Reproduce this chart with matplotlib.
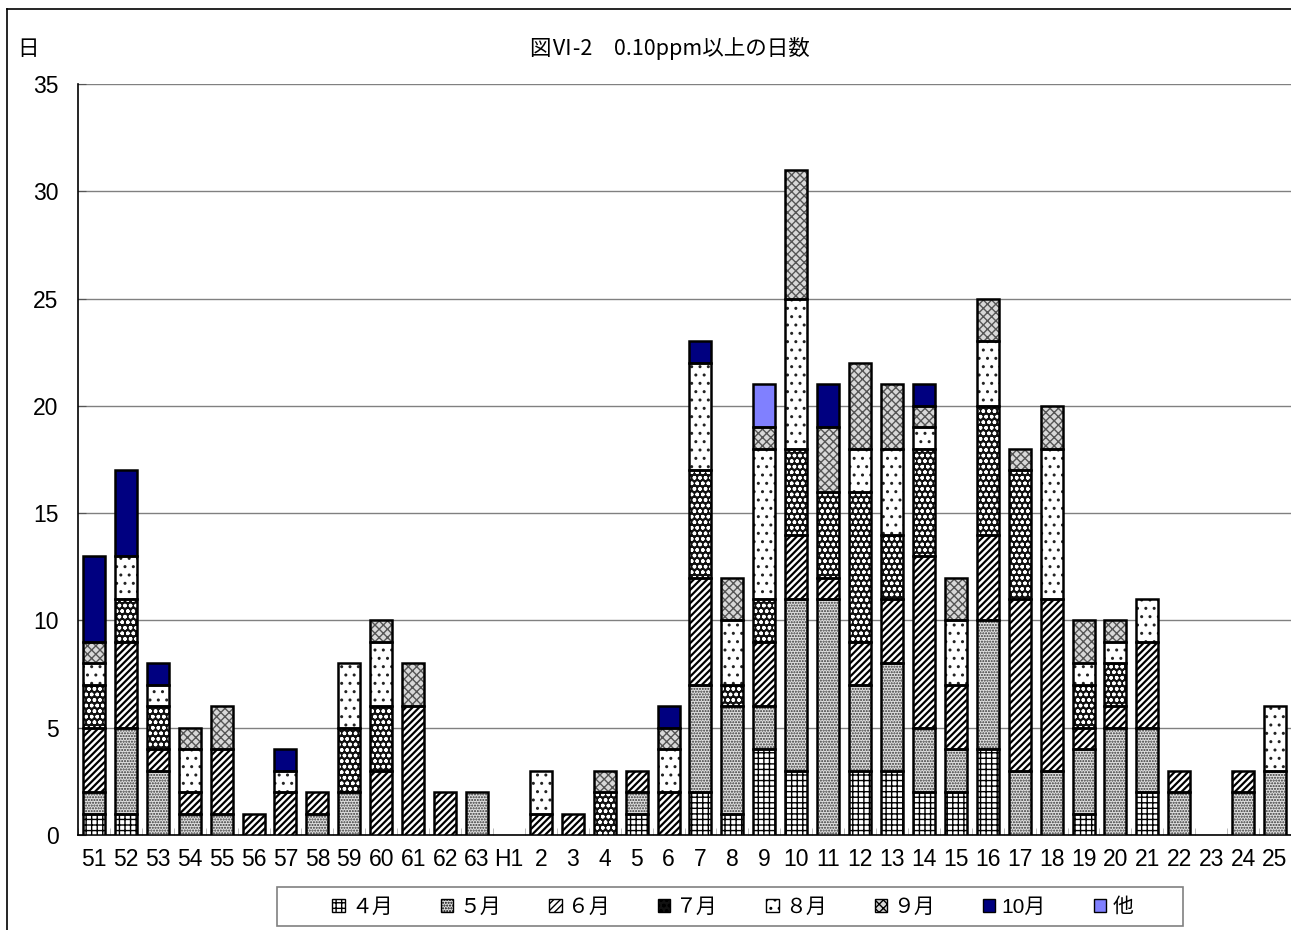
import matplotlib
matplotlib.use('Agg')
import matplotlib.pyplot as plt
from matplotlib.patches import Patch, Rectangle
from matplotlib.lines import Line2D
from matplotlib import font_manager
import numpy as np

categories = ['51', '52', '53', '54', '55', '56', '57', '58', '59', '60', '61', '62', '63', 'H1',
              '2', '3', '4', '5', '6', '7', '8', '9', '10', '11', '12', '13', '14', '15', '16',
              '17', '18', '19', '20', '21', '22', '23', '24', '25']

apr = [1, 1, 0, 0, 0, 0, 0, 0, 0, 0, 0, 0, 0, 0,
       0, 0, 0, 1, 0, 2, 1, 4, 3, 0, 3, 3, 2, 2, 4, 0, 0, 1, 0, 2, 0, 0, 0, 0]
may = [1, 4, 3, 1, 1, 0, 0, 1, 2, 0, 0, 0, 2, 0,
       0, 0, 0, 1, 0, 5, 5, 2, 8, 11, 4, 5, 3, 2, 6, 3, 3, 3, 5, 3, 2, 0, 2, 3]
jun = [3, 4, 1, 1, 3, 1, 2, 1, 0, 3, 6, 2, 0, 0,
       1, 1, 0, 1, 2, 5, 0, 3, 3, 1, 2, 3, 8, 3, 4, 8, 8, 1, 1, 4, 1, 0, 1, 0]
jul = [2, 2, 2, 0, 0, 0, 0, 0, 3, 3, 0, 0, 0, 0,
       0, 0, 2, 0, 0, 5, 1, 2, 4, 4, 7, 3, 5, 0, 6, 6, 0, 2, 2, 0, 0, 0, 0, 0]
aug = [1, 2, 1, 2, 0, 0, 1, 0, 3, 3, 0, 0, 0, 0,
       2, 0, 0, 0, 2, 5, 3, 7, 7, 0, 2, 4, 1, 3, 3, 0, 7, 1, 1, 2, 0, 0, 0, 3]
sep = [1, 0, 0, 1, 2, 0, 0, 0, 0, 1, 2, 0, 0, 0,
       0, 0, 1, 0, 1, 0, 2, 1, 6, 3, 4, 3, 1, 2, 2, 1, 2, 2, 1, 0, 0, 0, 0, 0]
octo = [4, 4, 1, 0, 0, 0, 1, 0, 0, 0, 0, 0, 0, 0,
        0, 0, 0, 0, 1, 1, 0, 0, 0, 2, 0, 0, 1, 0, 0, 0, 0, 0, 0, 0, 0, 0, 0, 0]
other = [0, 0, 0, 0, 0, 0, 0, 0, 0, 0, 0, 0, 0, 0,
         0, 0, 0, 0, 0, 0, 0, 2, 0, 0, 0, 0, 0, 0, 0, 0, 0, 0, 0, 0, 0, 0, 0, 0]

series_labels = ['４月', '５月', '６月', '７月', '８月', '９月', '10月', '他']
series = [apr, may, jun, jul, aug, sep, octo, other]
y_ticks = [0, 5, 10, 15, 20, 25, 30, 35]

# styles: facecolor, hatch, hatch color, hatch linewidth
styles = [
    ('white', '+++', 'black', 1.0),
    ('#e0e0e0', '......', '#333333', 1.0),
    ('white', '/////', 'black', 1.6),
    ('#111111', 'ooo', 'white', 1.0),
    ('white', '..', '#222222', 1.0),
    ('#d8d8d8', 'xxxx', '#555555', 1.0),
    ('#000080', '', '#000080', 1.0),
    ('#8080ff', '', '#8080ff', 1.0),
]

names = {f.name for f in font_manager.fontManager.ttflist}
latin = 'Liberation Sans Narrow' if 'Liberation Sans Narrow' in names else 'Liberation Sans'
fams = [latin, 'Noto Sans CJK JP', 'DejaVu Sans']
plt.rcParams['font.family'] = fams
plt.rcParams['hatch.linewidth'] = 1.0

fig = plt.figure(figsize=(12.91, 9.30), dpi=100)
ax = fig.add_axes([78 / 1291, 95 / 930, 1213 / 1291, 751 / 930])

x = np.arange(len(categories))
width = 0.69
bottom = np.zeros(len(categories))
for vals, (fc, hatch, hc, hlw) in zip(series, styles):
    v = np.array(vals, dtype=float)
    mask = v > 0
    with plt.rc_context({'hatch.linewidth': hlw}):
        bars = ax.bar(x[mask], v[mask], width, bottom=bottom[mask], color=fc, edgecolor=hc,
                      hatch=hatch, linewidth=0, zorder=3)
        for b in bars:
            if hasattr(b, 'set_hatch_linewidth'):
                b.set_hatch_linewidth(hlw)
    ax.bar(x[mask], v[mask], width, bottom=bottom[mask], fill=False, edgecolor='black',
           linewidth=1.8, zorder=4)
    bottom += v

ax.set_xlim(-0.5, len(categories) - 0.5)
ax.set_ylim(0, 35)
ax.set_yticks(y_ticks)
ax.set_xticks(x)
ax.set_xticklabels(categories)
ax.set_xticks(np.arange(len(categories) + 1) - 0.5, minor=True)
ax.tick_params(axis='x', which='major', length=0, pad=9, labelsize=16.5)
ax.tick_params(axis='x', which='minor', direction='in', length=5, color='#b0b0b0')
ax.tick_params(axis='y', direction='in', length=6, color='#555555', pad=14, labelsize=16.5)
ax.yaxis.grid(True, color='#808080', linewidth=1)
ax.set_axisbelow(True)
for s in ['top', 'right']:
    ax.spines[s].set_visible(False)
ax.spines['left'].set_linewidth(1.2)
ax.spines['bottom'].set_linewidth(1.2)

fig.text(28 / 1291, 1 - 49 / 930, '日', ha='center', va='center', fontsize=15.5,
         family=['Noto Sans CJK JP', 'DejaVu Sans'])
fig.text(670 / 1291, 1 - 49 / 930, '図Ⅵ-2\u30000.10ppm以上の日数', ha='center', va='center',
         fontsize=15.5, family=['Noto Sans CJK JP', 'DejaVu Sans'])

# outer frame lines
fig.add_artist(Line2D([7 / 1291, 7 / 1291], [0, 1 - 9 / 930], transform=fig.transFigure,
                      color='black', linewidth=1.2))
fig.add_artist(Line2D([7 / 1291, 1], [1 - 9 / 930, 1 - 9 / 930], transform=fig.transFigure,
                      color='black', linewidth=1.2))

# legend
handles = [Patch(facecolor=fc, edgecolor='black', hatch=h, linewidth=1.0)
           for fc, h, hc, hlw in styles]
fig.add_artist(Rectangle((277 / 1291, 1 - 926 / 930), (1183 - 277) / 1291, 39 / 930,
                         transform=fig.transFigure, facecolor='white', edgecolor='#808080',
                         linewidth=1.2))
leg = fig.legend(handles, series_labels, ncol=8, loc='center',
                 bbox_to_anchor=(733 / 1291, 1 - 907 / 930), frameon=False,
                 handlelength=0.6, handleheight=0.6, handletextpad=0.3, columnspacing=2.3,
                 prop={'size': 15, 'family': fams})

fig.savefig('out.png', dpi=100)
